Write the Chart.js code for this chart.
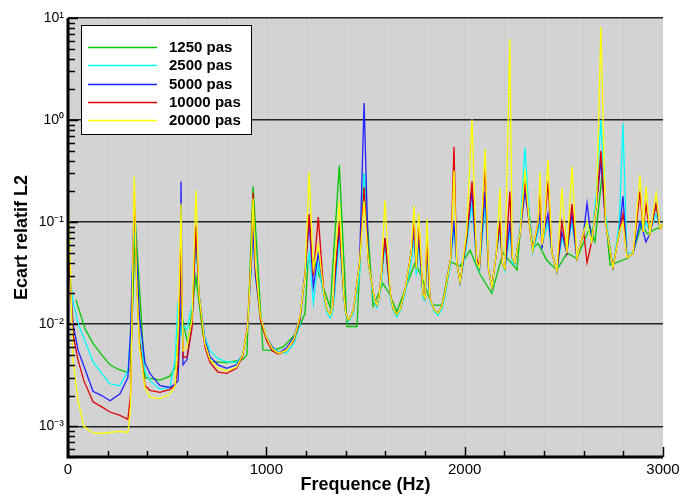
<!DOCTYPE html>
<html>
<head>
<meta charset="utf-8">
<script src="https://cdn.jsdelivr.net/npm/chart.js@4.4.0/dist/chart.umd.min.js"></script>
<style>
  body { margin: 0; background: #fff; }
  canvas { display: block; }
</style>
</head>
<body>
<canvas id="myChart" width="681" height="496"></canvas>
<script>
// frequencies (Hz) shared by the 2500 / 5000 / 10000 / 20000 pas curves
const freqFine = [
    0, 10, 25, 50, 80, 126, 170, 212, 262, 302,
    315, 334, 345, 360, 388, 413, 464, 514, 540, 555,
    565, 570, 575, 580, 600, 625, 645, 660, 690, 716,
    756, 800, 850, 880, 905, 925, 933, 945, 970, 1000,
    1030, 1060, 1100, 1140, 1170, 1195, 1216, 1237, 1262, 1290, 1305,
    1322, 1335, 1345, 1368, 1390, 1400, 1413, 1426, 1440, 1470, 1493, 1515, 1540, 1548,
    1557, 1567, 1580, 1598, 1625, 1640, 1658, 1676, 1700, 1730, 1745, 1756, 1768,
    1790, 1800, 1810, 1825, 1845, 1866, 1885, 1900, 1930, 1946, 1960, 1977,
    2010, 2037, 2060, 2075, 2103, 2120, 2137, 2160, 2178, 2190,
    2203, 2228, 2240, 2253, 2280, 2304, 2325, 2343, 2370, 2380,
    2390, 2400, 2420, 2440, 2465, 2490, 2515, 2541, 2566, 2600,
    2617, 2640, 2665, 2687, 2710, 2748, 2780, 2798, 2818, 2850,
    2884, 2900, 2914, 2934, 2965, 2985, 3000
];
const pas2500 = [
    .06, .03, .0172, .0102, .0073, .0043, .0033, .0026, .0025, .0035,
    .008, .12, .03, .008, .0035, .0028, .0023, .0024, .0045, .0165,
    .009, .008, .01, .0095, .009, .015, .06, .02, .0075, .0055,
    .0046, .0043, .0042, .005, .009, .04, .09, .03, .011, .0075,
    .006, .0054, .0052, .0065, .01, .03, .05, .0161, .04, .018, .013,
    .0115, .0135, .02, .07, .018, .0125, .0105, .0115, .013, .03, .3, .04, .018, .016,
    .0145, .017, .025, .06, .018, .0135, .0118, .0135, .02, .04, .07, .03, .06,
    .018, .017, .05, .017, .0135, .0122, .014, .018, .04, .09, .04, .025,
    .06, .15, .04, .034, .15, .035, .022, .05, .08, .04,
    .033, .08, .04, .038, .09, .536, .12, .05, .08, .1,
    .06, .07, .1, .05, .032, .07, .05, .1, .044, .08,
    .1, .065, .2, 1.0, .12, .036, .1, .93, .05, .05,
    .1, .08, .1, .08, .12, .087, .095
];
const pas5000 = [
    .06, .03, .0102, .0056, .0039, .0022, .002, .00178, .00208, .003,
    .008, .15, .05, .012, .0042, .0033, .0025, .0024, .0026, .0028,
    .01, .25, .02, .004, .0045, .01, .09, .02, .007, .0048,
    .004, .0037, .004, .005, .009, .04, .085, .03, .012, .0075,
    .006, .0052, .0058, .0075, .012, .032, .1, .023, .05, .02, .014,
    .0125, .015, .025, .09, .02, .013, .011, .012, .014, .04, 1.47, .04, .02, .017,
    .0155, .018, .03, .07, .02, .014, .0124, .014, .022, .05, .08, .035, .07,
    .02, .018, .06, .018, .014, .0128, .015, .02, .045, .1, .04, .026,
    .07, .2, .04, .036, .2, .035, .023, .05, .1, .04,
    .035, .1, .045, .04, .08, .2, .1, .053, .09, .12,
    .055, .08, .12, .05, .033, .08, .05, .12, .044, .08,
    .153, .064, .15, .4, .1, .036, .08, .18, .045, .05,
    .1, .08, .064, .077, .15, .087, .095
];
const pas10000 = [
    .06, .03, .0081, .0045, .0028, .00174, .00155, .00138, .00128, .00117,
    .002, .2, .03, .007, .0025, .00225, .00215, .0023, .0025, .004,
    .03, .08, .015, .0047, .0048, .009, .093, .02, .006, .0042,
    .0034, .0033, .0037, .0048, .0095, .05, .194, .035, .011, .007,
    .0055, .0051, .0055, .007, .011, .03, .12, .03, .112, .02, .014,
    .0124, .015, .03, .1, .02, .013, .011, .012, .014, .04, .22, .04, .02, .017,
    .0155, .018, .03, .07, .02, .014, .0124, .014, .022, .05, .1, .035, .09,
    .02, .018, .07, .018, .014, .0128, .015, .02, .045, .547, .04, .026,
    .07, .25, .045, .036, .36, .035, .023, .05, .1, .04,
    .035, .2, .045, .04, .08, .25, .1, .053, .1, .2,
    .06, .08, .25, .05, .033, .1, .05, .15, .044, .08,
    .04, .064, .15, .5, .1, .036, .08, .12, .045, .05,
    .2, .08, .15, .077, .15, .087, .095
];
const pas20000 = [
    .2, .05, .0045, .0018, .001, .00086, .00085, .00087, .00089, .00087,
    .0015, .28, .03, .006, .0024, .00193, .00187, .00207, .0025, .008,
    .05, .152, .02, .0055, .006, .011, .204, .02, .0065, .0045,
    .0037, .0035, .0038, .005, .009, .05, .17, .04, .012, .0075,
    .0058, .0052, .0055, .0072, .012, .03, .31, .035, .06, .02, .014,
    .0124, .015, .04, .158, .02, .013, .011, .012, .014, .04, .16, .04, .02, .017,
    .0155, .018, .03, .164, .02, .014, .0124, .014, .022, .05, .145, .035, .122,
    .02, .018, .107, .018, .014, .0128, .015, .02, .045, .32, .04, .026,
    .08, 1.02, .04, .036, .52, .035, .023, .05, .215, .04,
    .035, 6.2, .045, .04, .08, .32, .1, .053, .1, .31,
    .06, .08, .41, .05, .033, .215, .05, .35, .044, .08,
    .1, .064, .15, 8.16, .1, .036, .08, .1, .045, .05,
    .29, .08, .225, .077, .19, .087, .095
];

// the 1250 pas curve is sampled more coarsely
const freqCoarse = [
    40, 86, 126, 170, 212, 255, 297, 315, 340, 388,
    440, 464, 514, 545, 560, 578, 605, 645, 680, 720,
    800, 880, 902, 933, 983, 1030, 1085, 1155, 1195, 1210,
    1240, 1322, 1368, 1407, 1457, 1493, 1538, 1588, 1620, 1658,
    1750, 1780, 1835, 1886, 1926, 1977, 2027, 2077, 2137, 2193,
    2264, 2304, 2344, 2370, 2415, 2465, 2516, 2566, 2632, 2657,
    2692, 2733, 2818, 2849, 2894, 2919, 2970, 2995
];
const pas1250 = [
    .0173, .009, .0065, .005, .004, .0036, .0034, .0036, .1, .003,
    .0029, .00283, .0031, .0039, .015, .011, .0063, .029, .008, .0043,
    .0042, .0045, .005, .225, .0056, .0055, .006, .0083, .0128, .041,
    .043, .0146, .36, .0095, .0095, .3, .015, .025, .02, .0133,
    .04, .03, .0154, .0154, .041, .037, .053, .031, .02, .05,
    .034, .3, .055, .062, .042, .034, .05, .044, .09, .064,
    .28, .038, .044, .05, .098, .077, .087, .09
];

const seriesLabels = ['1250 pas', '2500 pas', '5000 pas', '10000 pas', '20000 pas'];
const seriesColors = ['#00c800', '#00ffff', '#2020ff', '#e00000', '#ffff00'];

const xTickValues = [0, 1000, 2000, 3000];
const xTickLabels = ['0', '1000', '2000', '3000'];
const yDecades = [-3, -2, -1, 0, 1];
const yDecadeLabels = ['10\u207B\u00B3', '10\u207B\u00B2', '10\u207B\u00B9', '10\u2070', '10\u00B9'];

function toPoints(freqs, vals) {
    return freqs.map((f, i) => ({ x: f, y: vals[i] }));
}

function decadeIndex(v) {
    const l = Math.log10(v);
    if (Math.abs(l - Math.round(l)) > 1e-6) return -1;
    return yDecades.indexOf(Math.round(l));
}

// log tick positions 1..9 x 10^n between 5e-4 and 10
const yTickValues = [];
for (let e = -4; e <= 1; e++) {
    for (let m = 1; m <= 9; m++) {
        const v = Number((m * Math.pow(10, e)).toPrecision(3));
        if (v >= 5e-4 && v <= 10) yTickValues.push(v);
    }
}

const plotBackground = {
    id: 'plotBackground',
    beforeDraw(chart) {
        const { ctx, chartArea: a } = chart;
        ctx.save();
        ctx.fillStyle = '#d3d3d3';
        ctx.fillRect(a.left, a.top, a.right - a.left, a.bottom - a.top);
        ctx.restore();
    }
};

// axis lines + inward ticks, like the original plot
const inwardAxes = {
    id: 'inwardAxes',
    afterDatasetsDraw(chart) {
        const { ctx, chartArea: a, scales } = chart;
        ctx.save();
        ctx.strokeStyle = '#000';
        ctx.lineWidth = 1.5;
        scales.y.ticks.forEach(t => {
            const py = Math.round(scales.y.getPixelForValue(t.value)) + 0.5;
            const len = decadeIndex(t.value) >= 0 ? 10 : 7;
            ctx.beginPath();
            ctx.moveTo(a.left, py);
            ctx.lineTo(a.left + len, py);
            ctx.stroke();
        });
        scales.x.ticks.forEach(t => {
            const px = Math.round(scales.x.getPixelForValue(t.value)) + 0.5;
            const len = t.value % 1000 === 0 ? 10 : 6;
            ctx.beginPath();
            ctx.moveTo(px, a.bottom);
            ctx.lineTo(px, a.bottom - len);
            ctx.stroke();
        });
        ctx.lineWidth = 3;
        ctx.beginPath();
        ctx.moveTo(a.left, a.top);
        ctx.lineTo(a.left, a.bottom);
        ctx.lineTo(a.right, a.bottom);
        ctx.stroke();
        ctx.restore();
    }
};

const boxLegend = {
    id: 'boxLegend',
    afterDraw(chart) {
        const { ctx } = chart;
        ctx.save();
        ctx.fillStyle = '#fff';
        ctx.fillRect(81, 25, 171, 110);
        ctx.strokeStyle = '#000';
        ctx.lineWidth = 1;
        ctx.strokeRect(81.5, 25.5, 170, 109);
        ctx.font = 'bold 15px "Liberation Sans", Arial, sans-serif';
        ctx.textBaseline = 'middle';
        chart.data.datasets.forEach((ds, i) => {
            const y = 47 + i * 18.3;
            ctx.strokeStyle = ds.borderColor;
            ctx.lineWidth = 1.5;
            ctx.beginPath();
            ctx.moveTo(88, Math.round(y) + 0.5);
            ctx.lineTo(157, Math.round(y) + 0.5);
            ctx.stroke();
            ctx.fillStyle = '#000';
            ctx.fillText(ds.label, 169, y + 1);
        });
        ctx.restore();
    }
};

Chart.defaults.font.family = '"Liberation Sans", Arial, sans-serif';
Chart.defaults.color = '#000';

const ctx = document.getElementById('myChart').getContext('2d');
const dataSets = [
    toPoints(freqCoarse, pas1250),
    toPoints(freqFine, pas2500),
    toPoints(freqFine, pas5000),
    toPoints(freqFine, pas10000),
    toPoints(freqFine, pas20000)
];

new Chart(ctx, {
    type: 'line',
    data: {
        datasets: dataSets.map((d, i) => ({
            label: seriesLabels[i],
            data: d,
            borderColor: seriesColors[i],
            backgroundColor: seriesColors[i],
            borderWidth: 1.3,
            pointRadius: 0,
            tension: 0,
            fill: false,
            order: 4 - i
        }))
    },
    options: {
        responsive: false,
        animation: false,
        layout: { padding: { top: 18, right: 18, left: 0, bottom: 0 } },
        plugins: {
            legend: { display: false },
            tooltip: { enabled: false }
        },
        scales: {
            x: {
                type: 'linear',
                min: 0,
                max: 3000,
                afterBuildTicks: s => {
                    const t = [];
                    for (let v = 0; v <= 3000; v += 200) t.push({ value: v });
                    s.ticks = t;
                },
                ticks: {
                    autoSkip: false,
                    maxRotation: 0,
                    padding: 4,
                    font: { size: 15 },
                    callback: v => {
                        const i = xTickValues.indexOf(v);
                        return i >= 0 ? xTickLabels[i] : '';
                    }
                },
                grid: {
                    drawTicks: false,
                    lineWidth: 1,
                    color: c => (c.tick && c.tick.value > 0 && c.tick.value < 3000) ? 'rgba(150,150,150,0.35)' : 'rgba(0,0,0,0)'
                },
                border: { display: false, dash: [1, 3] },
                title: {
                    display: true,
                    text: 'Frequence (Hz)',
                    font: { size: 18, weight: 'bold' },
                    padding: { top: 0, bottom: 0 }
                },
                afterFit: s => {
                    s.height = 39;
                    s.paddingLeft = 0;
                    s.paddingRight = 0;
                }
            },
            y: {
                type: 'logarithmic',
                min: 5e-4,
                max: 10,
                afterBuildTicks: s => {
                    s.ticks = yTickValues.map(v => ({ value: v }));
                },
                ticks: {
                    autoSkip: false,
                    padding: 4,
                    font: { size: 14 },
                    callback: v => {
                        const i = decadeIndex(v);
                        return i >= 0 ? yDecadeLabels[i] : '';
                    }
                },
                grid: {
                    drawTicks: false,
                    lineWidth: 1.5,
                    color: c => (c.tick && decadeIndex(c.tick.value) >= 0) ? '#222' : 'rgba(0,0,0,0)'
                },
                border: { display: false },
                title: {
                    display: true,
                    text: 'Ecart relatif L2',
                    font: { size: 18, weight: 'bold' },
                    padding: { top: 11, bottom: 0 }
                },
                afterFit: s => {
                    s.width = 68;
                    s.paddingTop = 0;
                    s.paddingBottom = 0;
                }
            }
        }
    },
    plugins: [plotBackground, inwardAxes, boxLegend]
});
</script>
</body>
</html>
